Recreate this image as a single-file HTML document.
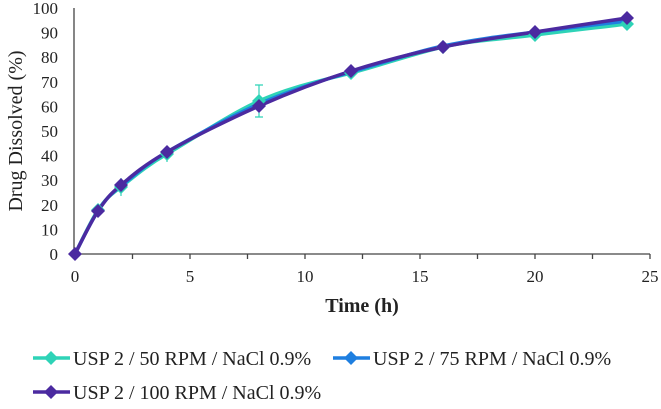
<!DOCTYPE html><html><head><style>body{margin:0;background:#fff}svg{font-family:"Liberation Serif",serif}</style></head><body>
<svg width="661" height="404" xmlns="http://www.w3.org/2000/svg">
<g font-size="17" fill="#222" text-anchor="end">
<text x="58" y="14">100</text><text x="58" y="38.6">90</text><text x="58" y="63.2">80</text><text x="58" y="87.8">70</text><text x="58" y="112.4">60</text><text x="58" y="137">50</text><text x="58" y="161.6">40</text><text x="58" y="186.2">30</text><text x="58" y="210.8">20</text><text x="58" y="235.4">10</text><text x="58" y="260">0</text>
</g>
<g font-size="17" fill="#222" text-anchor="middle">
<text x="75" y="282">0</text><text x="190" y="282">5</text><text x="305" y="282">10</text><text x="420" y="282">15</text><text x="535" y="282">20</text><text x="650" y="282">25</text>
</g>
<text x="362" y="312" font-size="20" font-weight="bold" fill="#222" text-anchor="middle">Time (h)</text>
<text transform="translate(22,131) rotate(-90)" font-size="20" fill="#222" text-anchor="middle">Drug Dissolved (%)</text>
<g stroke="#444" stroke-width="1.3" fill="none">
<line x1="74" y1="8" x2="74" y2="254"/><line x1="74" y1="254" x2="650" y2="254"/>
<path d="M75 254v5M132.5 254v5M190 254v5M247.5 254v5M305 254v5M362.5 254v5M420 254v5M477.5 254v5M535 254v5M592.5 254v5M650 254v5"/>
</g>
<defs><path id="d" d="M0 -7L7 0L0 7L-7 0Z"/></defs>
<g fill="none" stroke-width="3.5" stroke-linejoin="round">
<path stroke="#2ed3b7" d="M75 254C78.8 246.8 90.3 221.5 98 210C105.7 198.5 109.5 195.8 121 187C132.5 178.2 144 167.2 167 154C190 140.8 228.3 115 259 101C289.7 87 320.3 81 351 73C381.7 65 412.3 54 443 47C473.7 40 504.3 39 535 35C565.7 31 611.7 26 627 24"/>
<path stroke="#1e7fe0" d="M75 254C78.8 246.8 90.3 222.5 98 211C105.7 199.5 109.5 194.8 121 186C132.5 177.2 144 165.2 167 152C190 138.8 228.3 117.5 259 104C289.7 90.5 320.3 80.8 351 72C381.7 63.2 412.3 52.5 443 46C473.7 39.5 504.3 35.8 535 32C565.7 28.2 611.7 23 627 21"/>
<path stroke="#4b2aa0" d="M75 254C78.8 246.8 90.3 222.5 98 211C105.7 199.5 109.5 194.8 121 185C132.5 175.2 144 165.2 167 152C190 138.8 228.3 119.5 259 106C289.7 92.5 320.3 80.8 351 71C381.7 61.2 412.3 53.5 443 47C473.7 40.5 504.3 36.8 535 32C565.7 27.2 611.7 20.3 627 18"/>
</g>
<g stroke="#2ed3b7" stroke-width="1.2"><path d="M259 85v32M255 85h8M255 117h8M121 178v18M167 146v16"/></g>
<g fill="#2ed3b7"><use href="#d" x="98" y="210"/><use href="#d" x="121" y="187"/><use href="#d" x="167" y="154"/><use href="#d" x="259" y="101"/><use href="#d" x="351" y="73"/><use href="#d" x="443" y="47"/><use href="#d" x="535" y="35"/><use href="#d" x="627" y="24"/></g>
<g fill="#4b2aa0"><use href="#d" x="75" y="254"/><use href="#d" x="98" y="211"/><use href="#d" x="121" y="185"/><use href="#d" x="167" y="152"/><use href="#d" x="259" y="106"/><use href="#d" x="351" y="71"/><use href="#d" x="443" y="47"/><use href="#d" x="535" y="32"/><use href="#d" x="627" y="18"/></g>
<g font-size="20" fill="#222">
<line x1="33" y1="358" x2="70" y2="358" stroke="#2ed3b7" stroke-width="3.5"/><use href="#d" x="51" y="358" fill="#2ed3b7"/>
<text x="73" y="365">USP 2 / 50 RPM / NaCl 0.9%</text>
<line x1="333" y1="358" x2="370" y2="358" stroke="#1e7fe0" stroke-width="3.5"/><use href="#d" x="351" y="358" fill="#1e7fe0"/>
<text x="373" y="365">USP 2 / 75 RPM / NaCl 0.9%</text>
<line x1="33" y1="392" x2="70" y2="392" stroke="#4b2aa0" stroke-width="3.5"/><use href="#d" x="51" y="392" fill="#4b2aa0"/>
<text x="73" y="399">USP 2 / 100 RPM / NaCl 0.9%</text>
</g>
</svg></body></html>
